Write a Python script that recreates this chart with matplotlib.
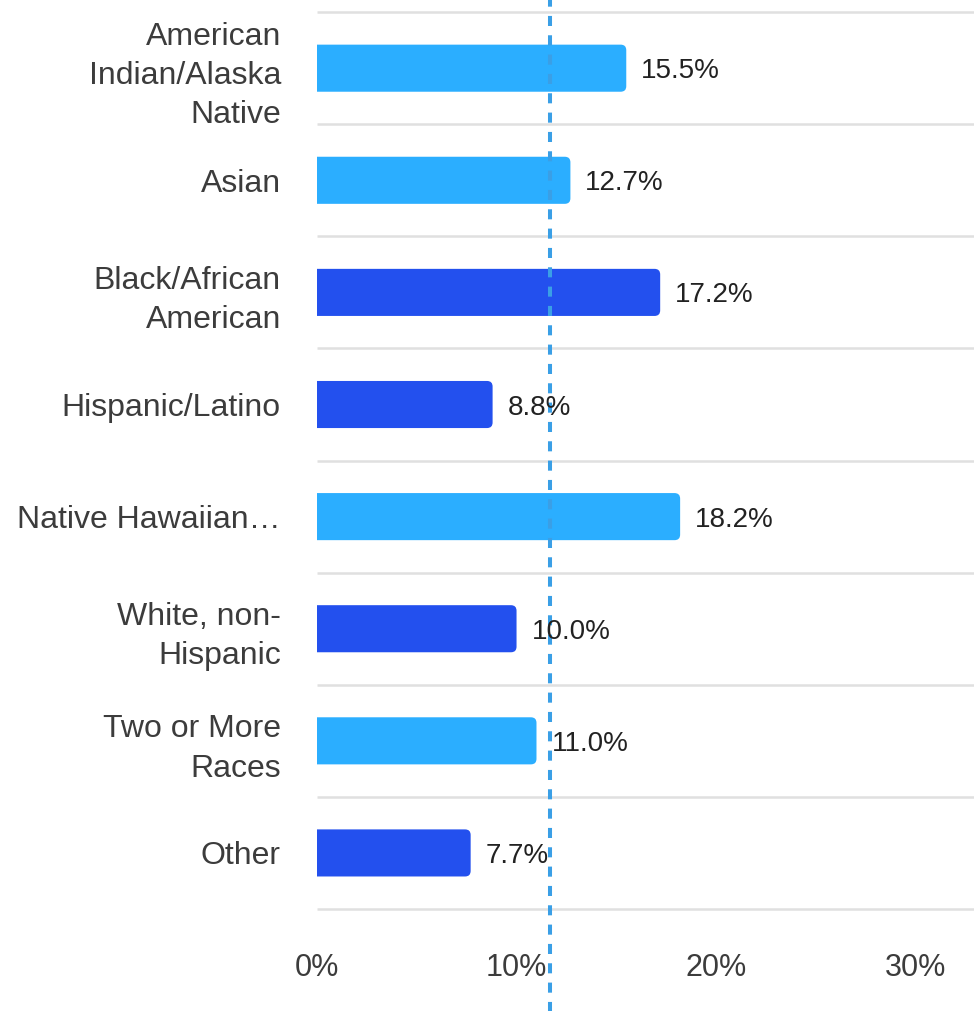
import numpy as np
import matplotlib
matplotlib.use("Agg")
from matplotlib import pyplot as plt
from matplotlib.patches import FancyBboxPatch

plt.rcParams['font.family'] = ['Liberation Sans', 'DejaVu Sans']

categories = ["American\nIndian/Alaska\nNative", "Asian", "Black/African\nAmerican",
              "Hispanic/Latino", "Native Hawaiian\u2026", "White, non-\nHispanic",
              "Two or More\nRaces", "Other"]
values = [15.5, 12.7, 17.2, 8.8, 18.2, 10.0, 11.0, 7.7]
bar_colors = ['#2BAEFF', '#2BAEFF', '#2350EE', '#2350EE',
              '#2BAEFF', '#2350EE', '#2BAEFF', '#2350EE']
ref_value = 11.7
xticks = [0, 10, 20, 30]

fig = plt.figure(figsize=(9.74, 10.11), dpi=100)
ax = fig.add_axes([0.3255, 0.1009, 1 - 0.3255, 0.988 - 0.1009])

y = np.arange(len(categories))
bars = ax.barh(y, values, height=0.42, color=bar_colors, zorder=2)

# swap the plain rectangles for ones with slightly rounded right corners
xmax = 32.93
r = 0.28
aspect = (1 / 112.1) / (1 / 19.95)
for b in bars:
    x0, y0, w, h = b.get_x(), b.get_y(), b.get_width(), b.get_height()
    b.set_visible(False)
    p = FancyBboxPatch((x0 - 1, y0), w + 1, h,
                       boxstyle=f"round,pad=0,rounding_size={r}",
                       mutation_aspect=aspect, facecolor=b.get_facecolor(),
                       edgecolor='none', zorder=2)
    ax.add_patch(p)

for yi, v in zip(y, values):
    ax.text(v + 0.75, yi, f"{v:.1f}%", va='center_baseline', ha='left', fontsize=20,
            color='#222222', zorder=4)

# separators between categories
ax.hlines(np.arange(-0.5, len(categories), 1), 0, xmax, color='#E0E0E0', lw=1.8,
          clip_on=False, zorder=0)

ax.axvline(ref_value, ymin=-0.115, ymax=1.014, clip_on=False, color='#3A9FE6',
           lw=2.9, dashes=(2.5, 2.3), zorder=3)

ax.set_xlim(0, xmax)
ax.set_ylim(len(categories) - 0.5, -0.5)
ax.set_yticks(y)
ax.set_yticklabels(categories, fontsize=23, color='#3C3C3C', linespacing=1.4)
ax.set_xticks(xticks)
ax.set_xticklabels([f"{t}%" for t in xticks], fontsize=22, color='#3C3C3C')
ax.tick_params(axis='both', which='both', length=0)
ax.tick_params(axis='y', pad=26)
ax.tick_params(axis='x', pad=32)
for s in ax.spines.values():
    s.set_visible(False)

fig.savefig("out.png", dpi=100)
